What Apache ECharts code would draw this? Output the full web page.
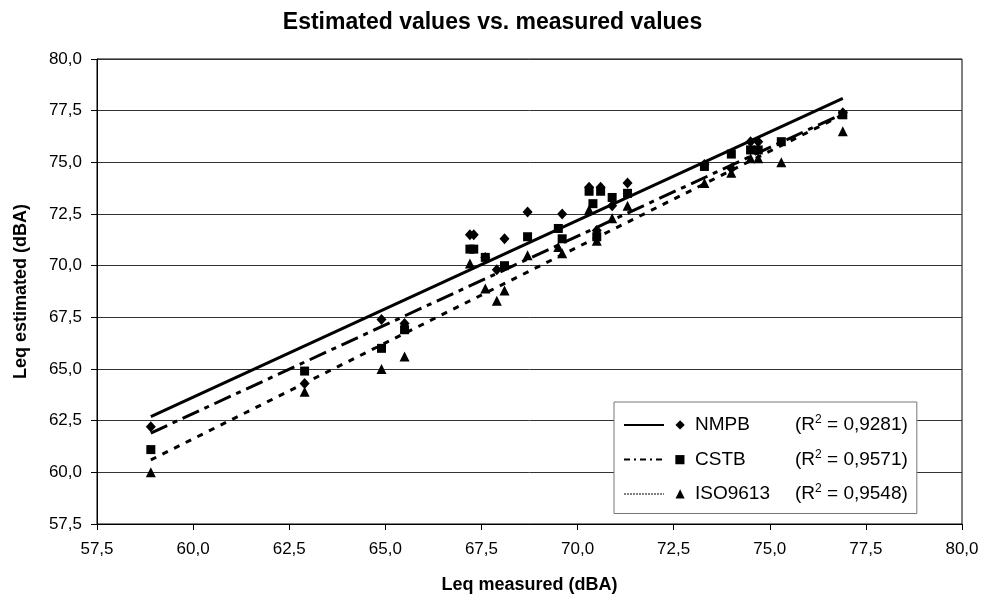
<!DOCTYPE html>
<html>
<head>
<meta charset="utf-8">
<script src="https://cdn.jsdelivr.net/npm/echarts@6/dist/echarts.min.js"></script>
<style>
  html, body { margin: 0; padding: 0; background: #fff; }
  #main { width: 985px; height: 603px; }
</style>
</head>
<body>
<div id="main"></div>
<script>
// measured vs estimated values (dBA)
var nmpbX = [58.9, 62.9, 64.9, 65.5, 67.2, 67.3, 67.6, 67.9, 68.1, 68.7, 69.6, 70.3, 70.6, 70.5, 70.9, 71.3, 73.3, 74.0, 74.5, 74.7, 76.9];
var nmpbY = [62.2, 64.3, 67.4, 67.2, 71.5, 71.5, 70.4, 69.8, 71.3, 72.6, 72.5, 73.8, 73.8, 71.7, 72.9, 74.0, 74.9, 74.7, 76.0, 76.0, 77.4];

var cstbX = [58.9, 62.9, 64.9, 65.5, 67.2, 67.3, 67.6, 68.1, 68.7, 69.5, 69.6, 70.3, 70.6, 70.4, 70.5, 70.9, 71.3, 73.3, 74.0, 74.5, 74.7, 75.3, 76.9];
var cstbY = [61.1, 64.9, 66.0, 66.9, 70.8, 70.8, 70.4, 70.0, 71.4, 71.8, 71.3, 73.6, 73.6, 73.0, 71.4, 73.3, 73.5, 74.8, 75.4, 75.6, 75.6, 76.0, 77.3];

var isoX = [58.9, 62.9, 64.9, 65.5, 67.2, 67.6, 67.9, 68.1, 68.7, 69.5, 69.6, 70.3, 70.5, 70.9, 71.3, 73.3, 74.0, 74.5, 74.7, 75.3, 76.9];
var isoY = [60.0, 63.9, 65.0, 65.6, 70.1, 68.9, 68.3, 68.8, 70.5, 70.9, 70.6, 72.7, 71.2, 72.3, 72.9, 74.0, 74.5, 75.2, 75.2, 75.0, 76.5];

// trend line end points
var trendX = [58.9, 76.9];
var nmpbTrend = [62.7, 78.1];
var cstbTrend = [61.9, 77.35];
var isoTrend = [60.6, 77.3];

var names = ['NMPB', 'CSTB', 'ISO9613'];
var r2 = ['0,9281', '0,9571', '0,9548'];
var glyphs = ['◆', '■', '▲'];

function pairs(xs, ys) {
    var out = [];
    for (var i = 0; i < xs.length; i++) out.push([xs[i], ys[i]]);
    return out;
}
function fmt(v) { return v.toFixed(1).replace('.', ','); }

var font = 'Liberation Sans, Arial, sans-serif';
var legendFont = 19;

// spacer after each legend name so the R² column lines up
var ctx = document.createElement('canvas').getContext('2d');
ctx.font = legendFont + 'px ' + font;
var rich = {
    m: { fontSize: 12, width: 22, align: 'right', fontFamily: 'DejaVu Sans', padding: [0, 4, 0, 0], lineHeight: 22 },
    n: { fontFamily: font, fontSize: legendFont, lineHeight: 22 },
    r: { fontFamily: font, fontSize: legendFont, lineHeight: 22 },
    s: { fontFamily: font, fontSize: 12, lineHeight: 22, verticalAlign: 'top', padding: [0, 0, 6, 0] }
};
for (var k = 0; k < names.length; k++) {
    rich['g' + k] = { width: Math.max(2, 100 - ctx.measureText(names[k]).width) };
}

var myChart = echarts.init(document.getElementById('main'));

var option = {
    animation: false,
    backgroundColor: '#fff',
    title: {
        text: 'Estimated values vs. measured values',
        left: 'center',
        top: 6,
        textStyle: { fontFamily: font, fontSize: 23, fontWeight: 'bold', color: '#000' }
    },
    grid: {
        left: 97, right: 23, top: 59, bottom: 79,
        show: true, borderColor: '#000', borderWidth: 1, backgroundColor: 'transparent'
    },
    xAxis: {
        type: 'value', min: 57.5, max: 80, interval: 2.5,
        name: 'Leq measured (dBA)', nameLocation: 'middle', nameGap: 52,
        nameTextStyle: { fontFamily: font, fontSize: 18, fontWeight: 'bold', color: '#000' },
        axisLine: { lineStyle: { color: '#000', width: 1 } },
        axisTick: { show: true, length: 6, lineStyle: { color: '#000' } },
        axisLabel: { formatter: fmt, fontFamily: font, fontSize: 17, color: '#000', margin: 17 },
        splitLine: { show: false }
    },
    yAxis: {
        type: 'value', min: 57.5, max: 80, interval: 2.5,
        name: 'Leq estimated (dBA)', nameLocation: 'middle', nameGap: 67,
        nameTextStyle: { fontFamily: font, fontSize: 18, fontWeight: 'bold', color: '#000' },
        axisLine: { lineStyle: { color: '#000', width: 1 } },
        axisTick: { show: true, length: 6, lineStyle: { color: '#000' } },
        axisLabel: { formatter: fmt, fontFamily: font, fontSize: 17, color: '#000', margin: 15 },
        splitLine: { show: true, lineStyle: { color: '#333', width: 1 } }
    },
    legend: {
        orient: 'vertical',
        left: 614, top: 402,
        padding: [12, 9, 10, 9],
        itemWidth: 40, itemHeight: 14, itemGap: 14,
        backgroundColor: '#fff',
        borderColor: '#777', borderWidth: 1, borderRadius: 0,
        data: [
            { name: 'NMPB', itemStyle: { opacity: 0 }, lineStyle: { width: 2, type: 'solid' } },
            { name: 'CSTB', itemStyle: { opacity: 0 }, lineStyle: { width: 2, type: [6, 4, 2, 4] } },
            { name: 'ISO9613', itemStyle: { opacity: 0 }, lineStyle: { width: 1, type: [2, 1] } }
        ],
        formatter: function (name) {
            var i = names.indexOf(name);
            return '{m|' + glyphs[i] + '}{n|' + name + '}{g' + i + '|}{r|(R}{s|2}{r| = ' + r2[i] + ')}';
        },
        textStyle: { fontFamily: font, fontSize: legendFont, color: '#000', rich: rich }
    },
    series: [
        {
            name: 'NMPB', type: 'line', data: pairs(trendX, nmpbTrend), symbol: 'none',
            lineStyle: { color: '#000', width: 3, type: 'solid' }, itemStyle: { color: '#000' }
        },
        {
            name: 'CSTB', type: 'line', data: pairs(trendX, cstbTrend), symbol: 'none',
            lineStyle: { color: '#000', width: 3, type: [18, 6, 5, 6] }, itemStyle: { color: '#000' }
        },
        {
            name: 'ISO9613', type: 'line', data: pairs(trendX, isoTrend), symbol: 'none',
            lineStyle: { color: '#000', width: 3, type: [6, 7] }, itemStyle: { color: '#000' }
        },
        {
            name: 'NMPB points', type: 'scatter', data: pairs(nmpbX, nmpbY),
            symbol: 'diamond', symbolSize: [10, 11], itemStyle: { color: '#000', opacity: 1 }
        },
        {
            name: 'CSTB points', type: 'scatter', data: pairs(cstbX, cstbY),
            symbol: 'rect', symbolSize: 9, itemStyle: { color: '#000', opacity: 1 }
        },
        {
            name: 'ISO9613 points', type: 'scatter', data: pairs(isoX, isoY),
            symbol: 'triangle', symbolSize: 10, itemStyle: { color: '#000', opacity: 1 }
        }
    ]
};

myChart.setOption(option);
</script>
</body>
</html>
